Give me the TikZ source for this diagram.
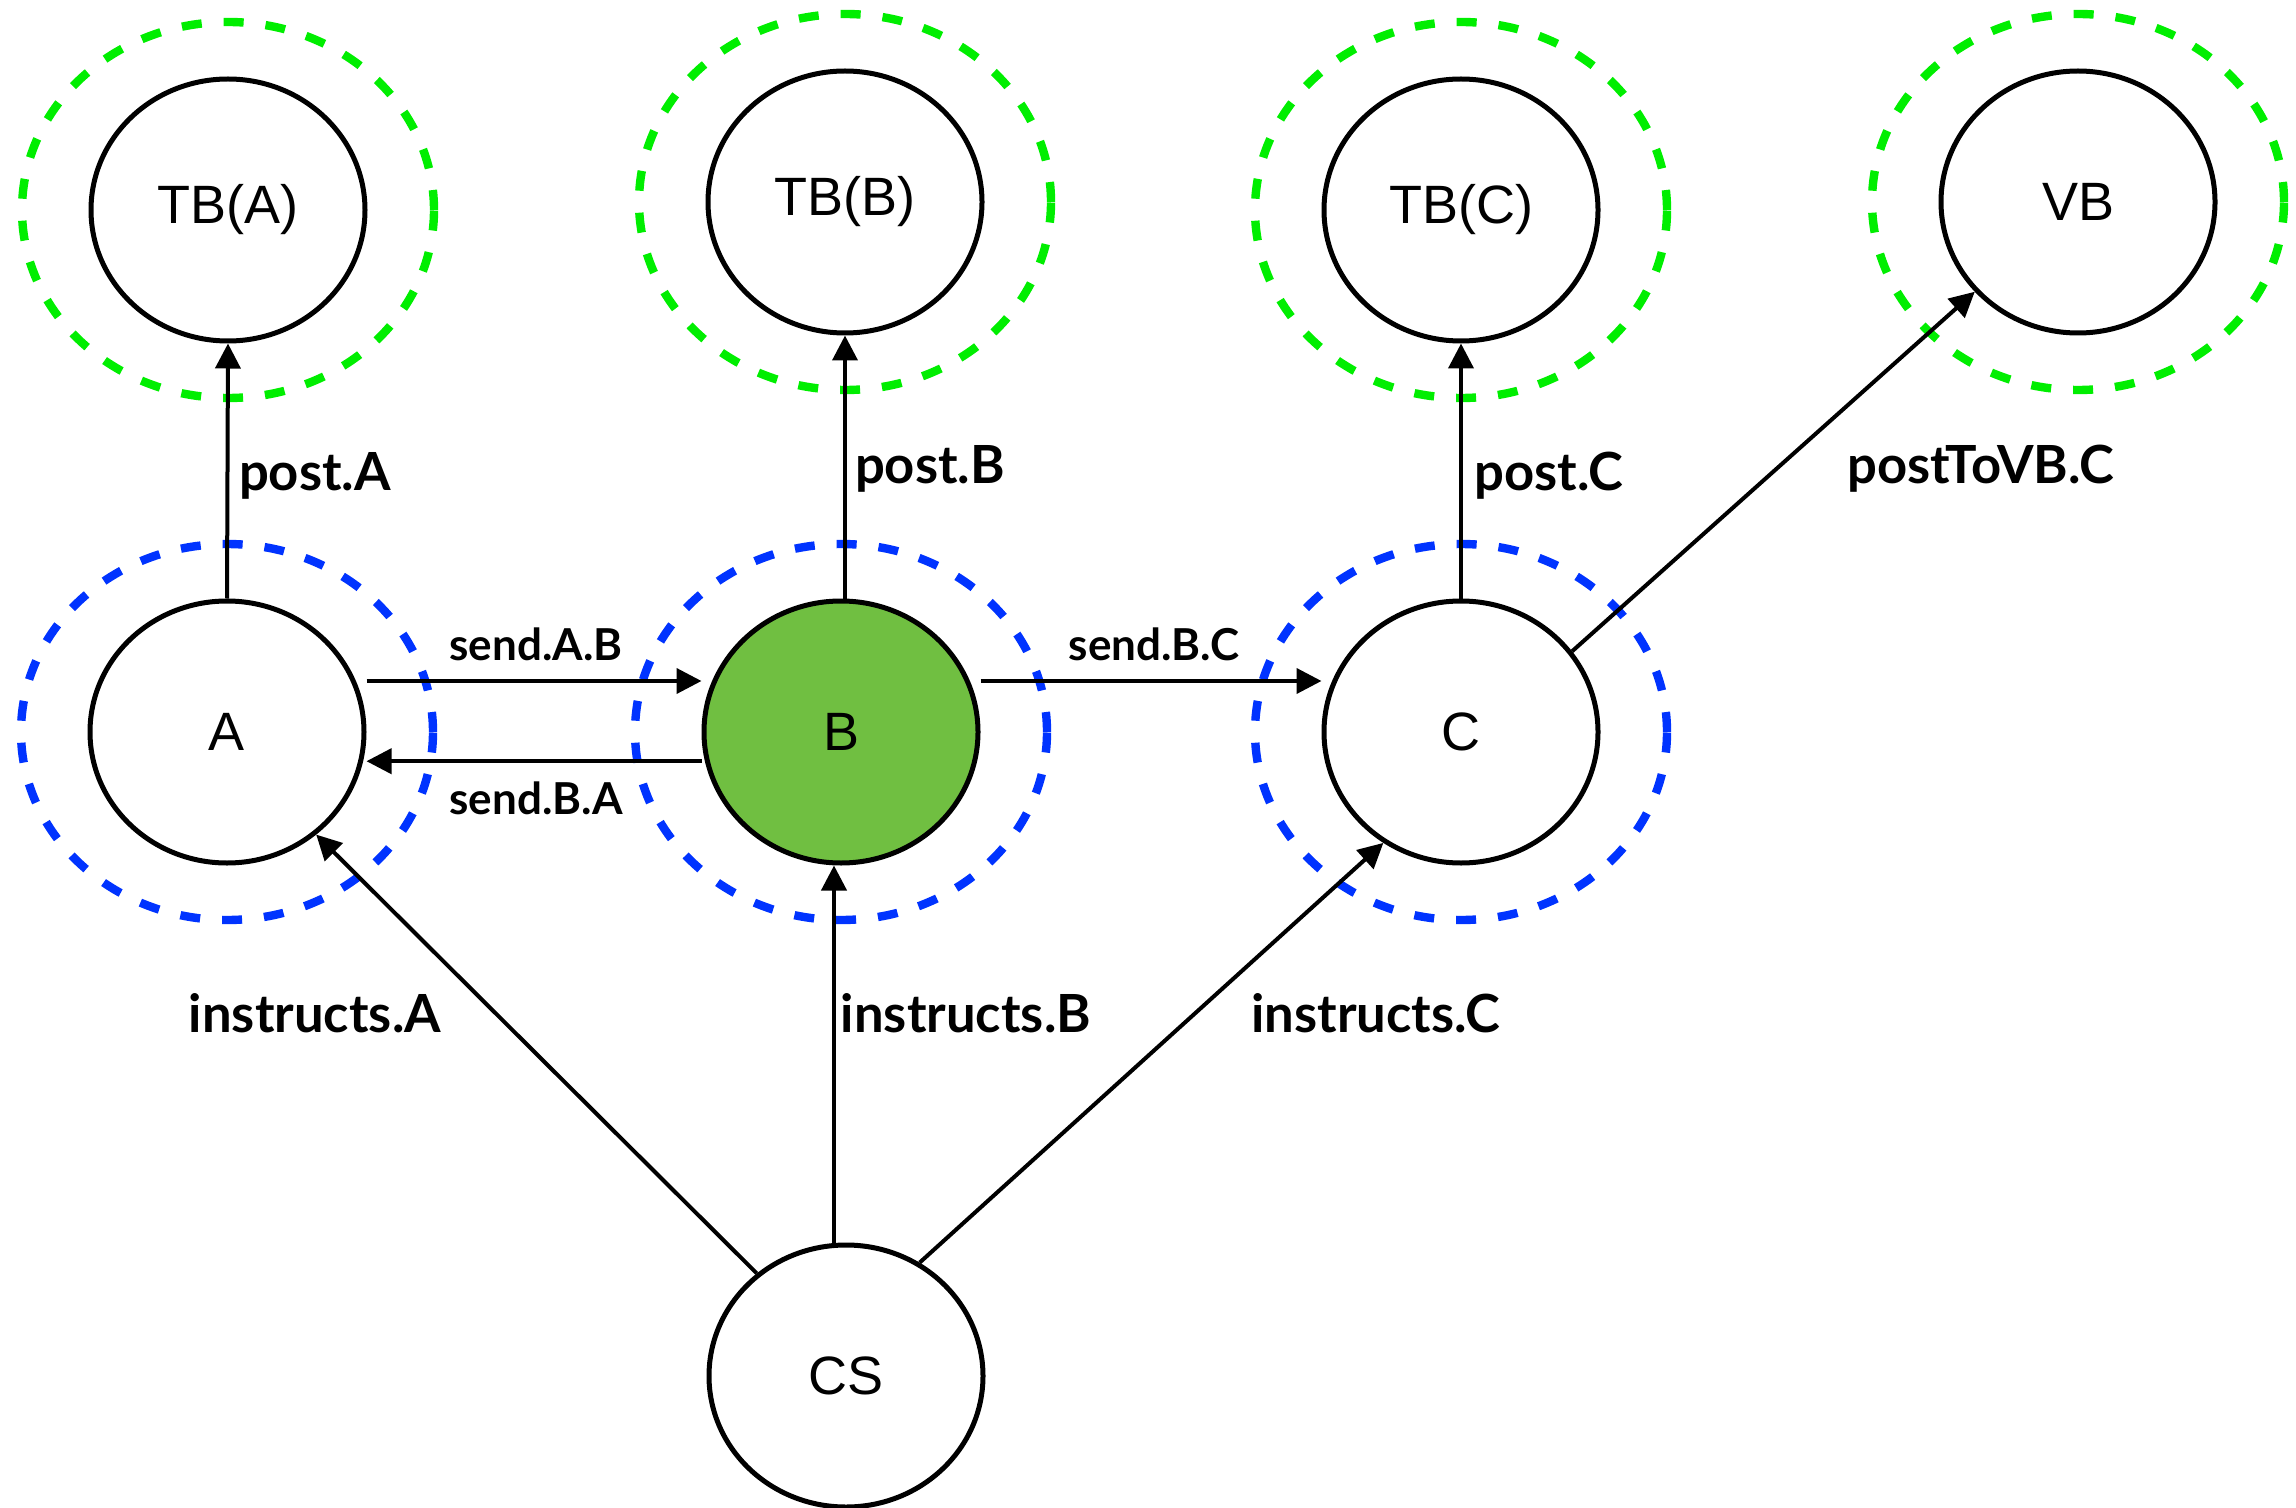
\documentclass[tikz,border=0pt]{standalone}
\usepackage{fontspec}
\setmainfont{Liberation Sans}
\newfontfamily\lblfont{Lato}
\usetikzlibrary{shapes.geometric,arrows.meta}

\definecolor{ringgreen}{RGB}{0,238,0}
\definecolor{ringblue}{RGB}{0,51,255}
\definecolor{leafgreen}{RGB}{112,191,65}

\begin{document}
\begin{tikzpicture}[x=0.5pt,y=-0.5pt,
  agent/.style={ellipse, draw, line width=2.5pt, minimum width=137pt,
    minimum height=131pt, inner sep=0pt, font=\fontsize{27}{31}\selectfont},
  ring/.style={line width=4.2pt, dash pattern=on 10pt off 11pt},
  arr/.style={line width=2pt, -{Triangle[length=12.5pt,width=12.5pt]}},
  lbl/.style={font=\lblfont\bfseries\fontsize{26.3}{30}\selectfont},
  slbl/.style={font=\lblfont\bfseries\fontsize{22}{26}\selectfont}]
\useasboundingbox (0,0) rectangle (2296,1508);

% centres of the agents and boards
\coordinate (pTBA) at (228,210);
\coordinate (pTBB) at (845,202);
\coordinate (pTBC) at (1461,210);
\coordinate (pVB)  at (2078,202);
\coordinate (pA)   at (227,732);
\coordinate (pB)   at (841,732);
\coordinate (pC)   at (1461,732);
\coordinate (pCS)  at (846,1376);

% dashed rings
\foreach \p in {pTBA,pTBB,pTBC,pVB}
  \draw[ring, ringgreen] (\p) ellipse [x radius=103pt, y radius=94pt];
\foreach \p in {pA,pB,pC}
  \draw[ring, ringblue] (\p) ellipse [x radius=103pt, y radius=94pt];

% nodes
\node[agent] (TBA) at (pTBA) {TB(A)};
\node[agent] (TBB) at (pTBB) {TB(B)};
\node[agent] (TBC) at (pTBC) {TB(C)};
\node[agent] (VB)  at (pVB)  {VB};
\node[agent] (A)   at (pA)   {A};
\node[agent, fill=leafgreen] (B) at (pB) {B};
\node[agent] (C)   at (pC)   {C};
\node[agent] (CS)  at (pCS)  {CS};

% posting to the boards
\draw[arr] (A.north) -- (TBA.south);
\draw[arr] (TBB.south |- B.north) -- (TBB.south);
\draw[arr] (C.north) -- (TBC.south);
\draw[arr] (C.36) -- (VB.221);

% messages between agents
\draw[arr] ([yshift=25.5pt]A.east) -- ([yshift=25.5pt]B.west);
\draw[arr] ([yshift=-14.6pt]B.west) -- ([yshift=-14.6pt]A.east);
\draw[arr] ([yshift=25.5pt]B.east) -- ([yshift=25.5pt]C.west);

% instructions from CS
\draw[arr] (CS.131) -- (A.311);
\draw[arr] ([xshift=-6pt]CS.north) -- ([xshift=-6pt]CS.north |- B.south);
\draw[arr] (CS.57) -- (C.235);

% labels
\node[lbl]  (lpA)  at (315,476)  {post.A};
\node[lbl]  (lpB)  at (930,469)  {post.B};
\node[lbl]  (lpC)  at (1549,476) {post.C};
\node[lbl]  (lpVB) at (1981,469) {postToVB.C};
\node[slbl] (lAB)  at (536,644)  {send.A.B};
\node[slbl] (lBA)  at (536,798)  {send.B.A};
\node[slbl] (lBC)  at (1154,644) {send.B.C};
\node[lbl]  (liA)  at (315,1013) {instructs.A};
\node[lbl]  (liB)  at (966,1013) {instructs.B};
\node[lbl]  (liC)  at (1376,1013) {instructs.C};
\end{tikzpicture}
\end{document}
